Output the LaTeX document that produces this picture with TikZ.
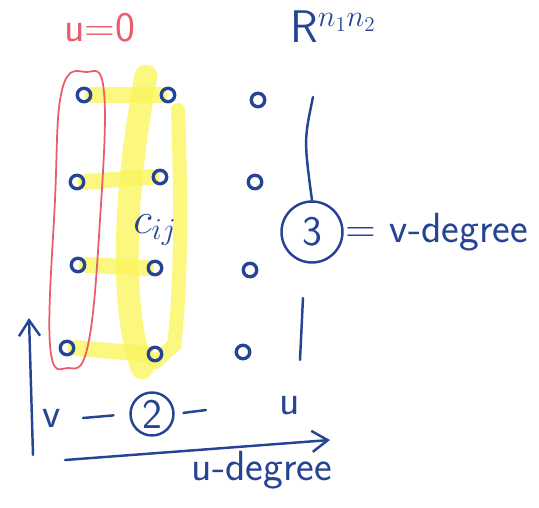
\documentclass[tikz,border=0pt]{standalone}
\usepackage{amsmath,amssymb}
\usepackage{xcolor}
\usepackage{tikz}
\usetikzlibrary{arrows.meta,backgrounds}

\definecolor{inkblue}{RGB}{38,68,148}
\definecolor{penred}{RGB}{232,92,108}
\definecolor{marker}{RGB}{250,245,95}

\begin{document}
\begin{tikzpicture}[
    x=0.02cm, y=-0.02cm,
    ink/.style={draw=inkblue, line width=1.4pt, line cap=round},
    gridpt/.style={
        circle,
        draw=inkblue,
        line width=1.9pt,
        minimum size=0.27cm,
        inner sep=0pt
    },
    hilite/.style={draw=marker, line width=9pt, line cap=round, opacity=0.8},
    scrawl/.style={text=inkblue, font=\sffamily\fontsize{24}{26}\selectfont, inner sep=1pt},
    ringed/.style={circle, draw=inkblue, line width=1.4pt, inner sep=0pt},
    barb/.style={-{Straight Barb[length=9pt,width=12pt]}, ink}
]
\useasboundingbox (0,0) rectangle (539,508);

% grid points, column u = 0 first
\node[gridpt] (p00) at (84,95) {};
\node[gridpt] (p01) at (77,182) {};
\node[gridpt] (p02) at (78,265) {};
\node[gridpt] (p03) at (67,348) {};
\node[gridpt] (p10) at (168,95) {};
\node[gridpt] (p11) at (160,177) {};
\node[gridpt] (p12) at (155,268) {};
\node[gridpt] (p13) at (155,354) {};
\node[gridpt] (p20) at (258,100) {};
\node[gridpt] (p21) at (255,182) {};
\node[gridpt] (p22) at (250,270) {};
\node[gridpt] (p23) at (243,352) {};

% yellow highlight of the support
\begin{pgfonlayer}{background}
\draw[hilite] (p00.east) -- (p10.west);
\draw[hilite] (p01.east) -- (p11.west);
\draw[hilite] (p02.east) -- (p12.west);
\draw[hilite] (p03.east) -- (p13.west);
\draw[hilite, line width=13pt] (146,76) .. controls (126,180) and (118,300) .. (142,368);
\draw[hilite, line width=8pt] (178,110) .. controls (182,220) and (180,300) .. (174,345)
    -- (p13.south);
\end{pgfonlayer}

% u = 0 loop
\node[text=penred, font=\sffamily\fontsize{24}{26}\selectfont] (uzero) at (100,28) {u=0};
\draw[penred, line width=1pt] plot[smooth cycle, tension=0.7] coordinates
    {(86,72) (104,92) (100,220) (88,345) (68,368) (50,345) (55,200) (62,90)};

\node[scrawl] (cij) at (155,230) {$c_{ij}$};
\node[scrawl, anchor=north west, font=\sffamily\fontsize{26}{28}\selectfont]
    (space) at (288,9) {R$^{n_1n_2}$};

% v-degree
\node[scrawl, ringed, minimum size=1.22cm] (three) at (312,232) {3};
\node[scrawl, anchor=west] (vdeg) at (three.east) {= v-degree};
\coordinate (vtop) at (313,97);
\coordinate (vbot) at (300,360);
\draw[ink] (vtop) .. controls (304,140) .. (three.north);
\draw[ink] (303,298) -- (vbot);

% axes
\coordinate (vfoot) at (33,455);
\coordinate (vhead) at (29,318);
\draw[barb] (vfoot) -- (vhead);
\coordinate (ufoot) at (65,460);
\coordinate (uhead) at (330,440);
\draw[barb] (ufoot) -- (uhead);

% u-degree
\node[scrawl] (vlab) at (52,418) {v};
\node[scrawl, ringed, minimum size=0.86cm] (two) at (152,414) {2};
\coordinate (dashA) at (83,418);
\draw[ink, shorten >=9pt] (dashA) -- (two.west);
\coordinate (dashB) at (206,410);
\draw[ink, shorten <=5pt] (two.east) -- (dashB);
\node[scrawl] (ulab) at (290,406) {u};
\node[scrawl] (udeg) at (262,470) {u-degree};

\end{tikzpicture}
\end{document}
